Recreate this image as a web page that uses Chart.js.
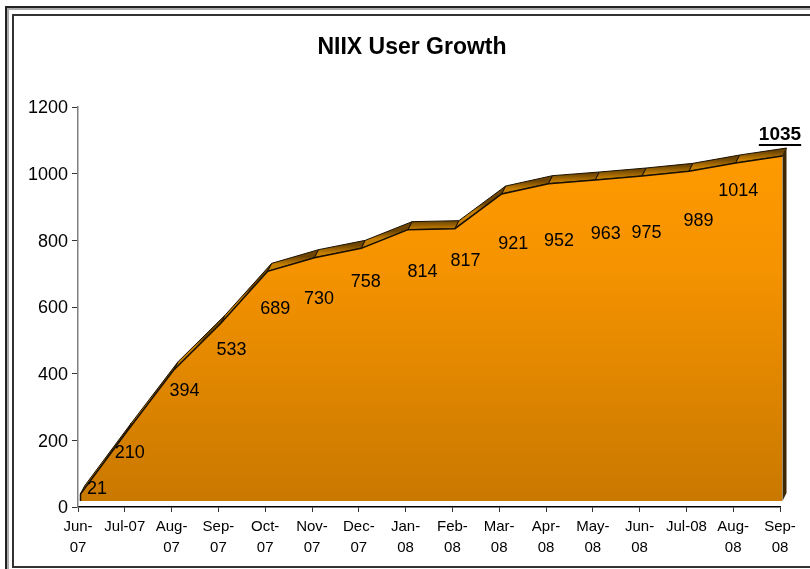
<!DOCTYPE html>
<html>
<head>
<meta charset="utf-8">
<title>NIIX User Growth</title>
<script src="https://cdn.jsdelivr.net/npm/chart.js@4"></script>
<style>
  html, body { margin: 0; padding: 0; background: #fff; overflow: hidden; }
  #wrap { position: relative; width: 810px; height: 569px; overflow: hidden; }
  canvas { position: absolute; left: 0; top: 0; }
  .frame { position: absolute; box-sizing: border-box; }
  #outer { left: 5px; top: 6px; width: 900px; height: 700px; border: 2px solid #222; }
  #middle { left: 7px; top: 8px; width: 900px; height: 700px; border: 2px solid #aaa; }
  #inner { left: 12px; top: 14px; width: 900px; height: 554px; border: 2px solid #333; }
</style>
</head>
<body>
<div id="wrap">
  <canvas id="grafico" width="810" height="569"></canvas>
  <div class="frame" id="outer"></div>
  <div class="frame" id="middle"></div>
  <div class="frame" id="inner"></div>
</div>
<script>
const meses = [
  ["Jun-", "07"], "Jul-07", ["Aug-", "07"], ["Sep-", "07"], ["Oct-", "07"], ["Nov-", "07"],
  ["Dec-", "07"], ["Jan-", "08"], ["Feb-", "08"], ["Mar-", "08"], ["Apr-", "08"], ["May-", "08"],
  ["Jun-", "08"], "Jul-08", ["Aug-", "08"], ["Sep-", "08"],
];
const usuarios = [21, 210, 394, 533, 689, 730, 758, 814, 817, 921, 952, 963, 975, 989, 1014, 1035];
const yTicks = [0, 200, 400, 600, 800, 1000, 1200];

// deslocamento do "3D" em pixels
const front = { dx: 2.5, dy: -6 };
const back = { dx: 6.5, dy: -14 };

const profundidade = {
  id: "profundidade",
  beforeDatasetsDraw(chart) {
    const { ctx, scales } = chart;
    const pts = usuarios.map((v, i) => ({
      x: scales.x.getPixelForValue(i),
      y: scales.y.getPixelForValue(v),
    }));
    ctx.save();
    ctx.strokeStyle = "#1a1000";
    ctx.lineWidth = 1;
    for (let i = 0; i < pts.length - 1; i++) {
      const a = pts[i], b = pts[i + 1];
      const g = ctx.createLinearGradient(
        0, (a.y + b.y) / 2 + back.dy, 0, (a.y + b.y) / 2 + front.dy);
      g.addColorStop(0, "#6e4500");
      g.addColorStop(1, "#c47e00");
      ctx.fillStyle = g;
      ctx.beginPath();
      ctx.moveTo(a.x + front.dx, a.y + front.dy);
      ctx.lineTo(a.x + back.dx, a.y + back.dy);
      ctx.lineTo(b.x + back.dx, b.y + back.dy);
      ctx.lineTo(b.x + front.dx, b.y + front.dy);
      ctx.closePath();
      ctx.fill();
      ctx.stroke();
    }
    // face lateral direita
    const last = pts[pts.length - 1];
    const base = scales.y.getPixelForValue(0);
    ctx.fillStyle = "#3d2600";
    ctx.beginPath();
    ctx.moveTo(last.x + front.dx, last.y + front.dy);
    ctx.lineTo(last.x + back.dx, last.y + back.dy);
    ctx.lineTo(last.x + back.dx, base + back.dy);
    ctx.lineTo(last.x + front.dx, base + front.dy);
    ctx.closePath();
    ctx.fill();
    ctx.restore();
    // o preenchimento do filler roda no beforeDatasetDraw, entao translada aqui
    ctx.save();
    ctx.translate(front.dx, front.dy);
  },
  afterDatasetsDraw(chart) {
    chart.ctx.restore();
    // aresta vertical esquerda da face frontal
    const { ctx, scales } = chart;
    const x = scales.x.getPixelForValue(0) + front.dx;
    ctx.save();
    ctx.strokeStyle = "#1a1000";
    ctx.lineWidth = 1.5;
    ctx.beginPath();
    ctx.moveTo(x, scales.y.getPixelForValue(usuarios[0]) + front.dy);
    ctx.lineTo(x, scales.y.getPixelForValue(0) + front.dy);
    ctx.stroke();
    ctx.restore();
  },
};

const rotulos = {
  id: "rotulos",
  afterDatasetsDraw(chart, args, opts) {
    const { ctx, scales } = chart;
    ctx.save();
    ctx.textAlign = "center";
    ctx.textBaseline = "middle";
    ctx.fillStyle = "#000";
    usuarios.forEach((v, i) => {
      const x = scales.x.getPixelForValue(i) + opts.nudge[i][0];
      const y = scales.y.getPixelForValue(v) + opts.nudge[i][1];
      const ultimo = i === usuarios.length - 1;
      ctx.font = (ultimo ? "bold 19px" : "18px") + " 'Liberation Sans', Arial, sans-serif";
      ctx.fillText(String(v), x, y);
      if (ultimo) {
        const w = ctx.measureText(String(v)).width;
        ctx.fillRect(x - w / 2, y + 9, w, 2);
      }
    });
    ctx.restore();
  },
};

new Chart(document.getElementById("grafico"), {
  type: "line",
  plugins: [profundidade, rotulos],
  data: {
    labels: meses,
    datasets: [
      {
        label: "Users",
        data: usuarios,
        fill: "origin",
        tension: 0,
        clip: false,
        pointRadius: 0,
        borderColor: "#1a1000",
        borderWidth: 1.5,
        backgroundColor(context) {
          const { ctx, chartArea } = context.chart;
          if (!chartArea) return "#ff9900";
          const g = ctx.createLinearGradient(0, 150, 0, chartArea.bottom);
          g.addColorStop(0, "#ff9a00");
          g.addColorStop(0.35, "#f59300");
          g.addColorStop(1, "#c97800");
          return g;
        },
      },
    ],
  },
  options: {
    responsive: false,
    animation: false,
    layout: { padding: { left: 14, right: 0, top: 0, bottom: 0 } },
    plugins: {
      legend: { display: false },
      tooltip: { enabled: false },
      title: {
        display: true,
        text: "NIIX User Growth",
        color: "#000",
        font: { family: "'Liberation Sans', Arial, sans-serif", size: 23, weight: "bold", lineHeight: 1 },
        padding: { top: 36, bottom: 48 },
      },
      rotulos: {
        nudge: [
          [19, -11], [5, 16], [13, 15], [13, 21], [10, 32], [7, 35], [7, 28], [17, 36],
          [13, 26], [14, 44], [13, 51], [13, 48], [7, 51], [12, 44], [5, 22], [0, -27],
        ],
      },
    },
    scales: {
      x: {
        offset: false,
        afterFit(scale) { scale.height = 62; },
        grid: { drawOnChartArea: false, color: "#333", tickLength: 5 },
        border: { color: "#000", width: 1.5 },
        ticks: {
          autoSkip: false,
          maxRotation: 0,
          minRotation: 0,
          color: "#000",
          padding: 5,
          font: { family: "'Liberation Sans', Arial, sans-serif", size: 15, lineHeight: 1.35 },
        },
      },
      y: {
        min: 0,
        max: 1200,
        afterFit(scale) { scale.width = 64; },
        afterBuildTicks(scale) { scale.ticks = yTicks.map((value) => ({ value })); },
        grid: { drawOnChartArea: false, color: "#333", tickLength: 6 },
        border: { color: "#808080", width: 1.5 },
        ticks: {
          color: "#000",
          padding: 4,
          labelOffset: 1.5,
          callback: (v) => String(v),
          font: { family: "'Liberation Sans', Arial, sans-serif", size: 18 },
        },
      },
      // eixo vazio so para reservar a margem direita
      margem: {
        position: "right",
        display: true,
        afterFit(scale) { scale.width = 30; },
        grid: { display: false },
        border: { display: false },
        ticks: { display: false },
      },
    },
  },
});
</script>
</body>
</html>
